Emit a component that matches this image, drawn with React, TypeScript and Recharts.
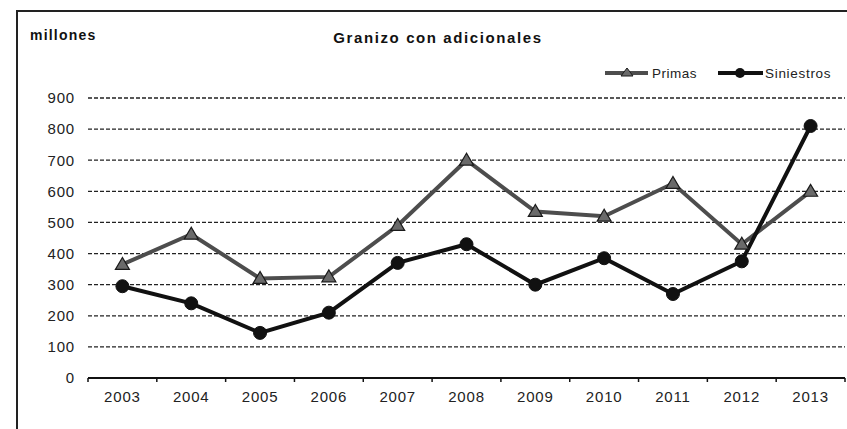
import React from 'react';
import { LineChart, Line, XAxis, YAxis, CartesianGrid } from 'recharts';

const years = ['2003', '2004', '2005', '2006', '2007', '2008', '2009', '2010', '2011', '2012', '2013'];
const primas = [365, 462, 320, 325, 490, 700, 535, 520, 625, 430, 600];
const siniestros = [295, 240, 145, 210, 370, 430, 300, 385, 270, 375, 810];
const yTicks = [0, 100, 200, 300, 400, 500, 600, 700, 800, 900];
const gridValues = [100, 200, 300, 400, 500, 600, 700, 800, 900];

// x position of each category = its index + 0.5 (centre of its band)
const data = years.map((y, i) => ({ x: i + 0.5, year: y, Primas: primas[i], Siniestros: siniestros[i] }));
const xTicks: number[] = [];
years.forEach((_, i) => {
  xTicks.push(i);
  xTicks.push(i + 0.5);
});
xTicks.push(years.length);

const FONT = '"Liberation Sans", Arial, sans-serif';
const PRIMAS_COLOR = '#4d4d4d';
const SIN_COLOR = '#111111';

const XTick = (props: any) => {
  const { x, y, payload } = props;
  const v = payload.value as number;
  if (Number.isInteger(v)) {
    return <line x1={x} y1={y} x2={x} y2={y + 4} stroke="#111" strokeWidth={1.5} />;
  }
  return (
    <text x={x} y={y + 24} textAnchor="middle" fontSize={15} letterSpacing={0.8} fontFamily={FONT} fill="#222">
      {years[Math.floor(v)]}
    </text>
  );
};

const TriangleDot = (props: any) => {
  const { cx, cy, index } = props;
  if (cx == null || cy == null) return null;
  const s = 7;
  return (
    <polygon
      key={`t-${index}`}
      points={`${cx},${cy - s} ${cx - s},${cy + s * 0.7} ${cx + s},${cy + s * 0.7}`}
      fill="#6a6a6a"
      stroke="#1a1a1a"
      strokeWidth={1.2}
    />
  );
};

const CircleDot = (props: any) => {
  const { cx, cy, index } = props;
  if (cx == null || cy == null) return null;
  return <circle key={`c-${index}`} cx={cx} cy={cy} r={6.5} fill={SIN_COLOR} stroke={SIN_COLOR} />;
};

const LegendBox = () => (
  <svg width={245} height={20} style={{ overflow: 'visible', display: 'block' }}>
    <line x1={5} y1={9} x2={48} y2={9} stroke={PRIMAS_COLOR} strokeWidth={4} />
    <polygon points="27,4 21,12 33,12" fill="#6a6a6a" stroke="#1a1a1a" strokeWidth={1} />
    <text x={52} y={14} fontSize={13.5} letterSpacing={0.5} fontFamily={FONT} fill="#222">Primas</text>
    <line x1={118} y1={9} x2={163} y2={9} stroke={SIN_COLOR} strokeWidth={4} />
    <circle cx={140} cy={9} r={5} fill={SIN_COLOR} />
    <text x={165} y={14} fontSize={13.5} letterSpacing={0.7} fontFamily={FONT} fill="#222">Siniestros</text>
  </svg>
);

export default function App() {
  return (
    <div style={{ position: 'absolute', left: 0, top: 0, width: 847, height: 429, background: '#fff', fontFamily: FONT, overflow: 'hidden' }}>
      <div style={{ position: 'absolute', left: 16, top: 10, width: 840, height: 430, borderLeft: '2px solid #222', borderTop: '2px solid #222' }} />
      <div style={{ position: 'absolute', left: 30, top: 27, fontSize: 14, letterSpacing: 1.2, fontWeight: 'bold', color: '#111' }}>millones</div>
      <div style={{ position: 'absolute', left: 238, width: 400, top: 29, textAlign: 'center', fontSize: 15, letterSpacing: 1.6, fontWeight: 'bold', color: '#111' }}>
        Granizo con adicionales
      </div>
      <div style={{ position: 'absolute', left: 600, top: 64 }}>
        <LegendBox />
      </div>
      <div style={{ position: 'absolute', left: 0, top: 0 }}>
        <LineChart width={847} height={429} data={data} margin={{ top: 98, right: 2, bottom: 21, left: 0 }}>
          <CartesianGrid
            horizontal
            vertical={false}
            horizontalValues={gridValues}
            stroke="#222"
            strokeDasharray="4 2"
            strokeWidth={1.3}
          />
          <XAxis
            dataKey="x"
            type="number"
            domain={[0, years.length]}
            ticks={xTicks}
            interval={0}
            height={30}
            axisLine={{ stroke: '#111', strokeWidth: 2 }}
            tickLine={false}
            tickSize={0}
            tickMargin={0}
            tick={<XTick />}
          />
          <YAxis
            domain={[0, 900]}
            ticks={yTicks}
            width={88}
            axisLine={false}
            tickLine={false}
            tickMargin={7}
            tick={{ fontSize: 15, letterSpacing: 0.8, fill: '#222', fontFamily: FONT }}
          />
          <Line
            dataKey="Primas"
            stroke={PRIMAS_COLOR}
            strokeWidth={4}
            dot={<TriangleDot />}
            isAnimationActive={false}
          />
          <Line
            dataKey="Siniestros"
            stroke={SIN_COLOR}
            strokeWidth={4}
            dot={<CircleDot />}
            isAnimationActive={false}
          />
        </LineChart>
      </div>
    </div>
  );
}
